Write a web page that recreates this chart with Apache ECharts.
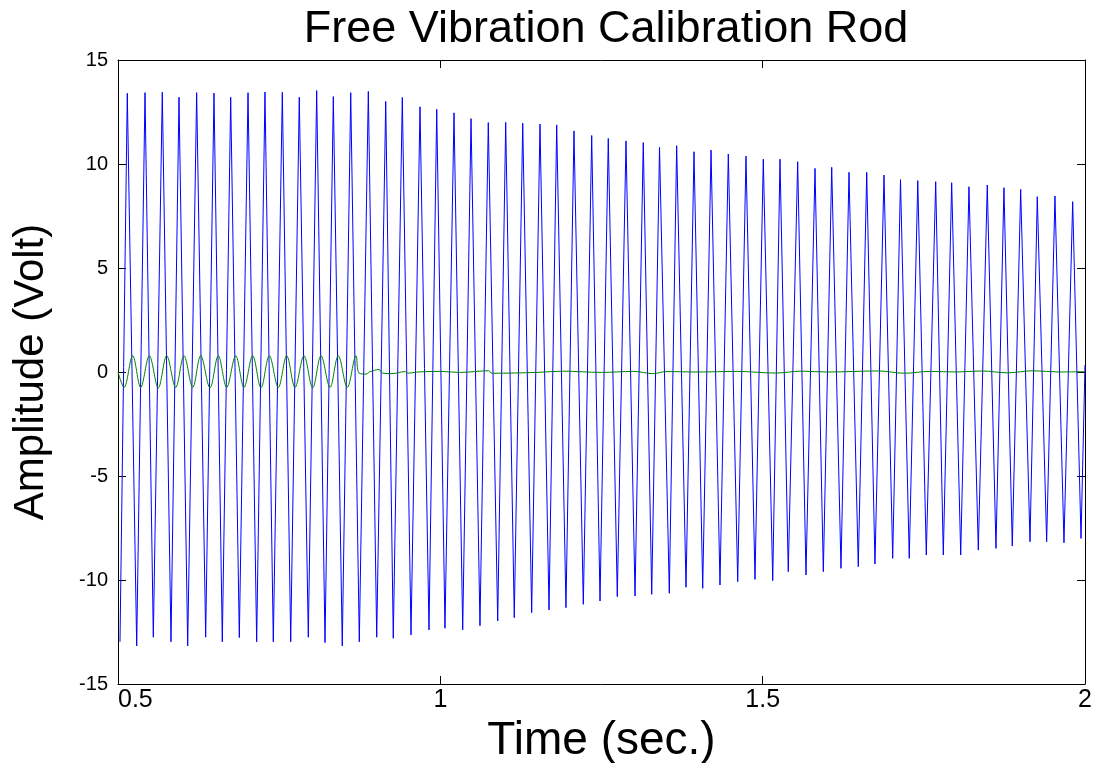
<!DOCTYPE html>
<html>
<head>
<meta charset="utf-8">
<script src="https://cdn.jsdelivr.net/npm/echarts/dist/echarts.min.js"></script>
<style>
html,body{margin:0;padding:0;background:#fff;}
#chart{width:1094px;height:763px;}
</style>
</head>
<body>
<div id="chart"></div>
<script>
// Blue signal: times (s) and values (V) of each crest and trough
var peakTimes = [0.5144,0.5419,0.5687,0.5946,0.6220,0.6489,0.6748,0.7017,0.7280,0.7549,0.7812,0.8082,0.8340,0.8610,0.8883,0.9153,0.9410,0.9685,0.9944,1.0212,1.0476,1.0744,1.1014,1.1278,1.1546,1.1805,1.2073,1.2348,1.2605,1.2880,1.3148,1.3400,1.3666,1.3935,1.4199,1.4467,1.4741,1.5010,1.5269,1.5543,1.5812,1.6071,1.6339,1.6614,1.6882,1.7138,1.7406,1.7684,1.7932,1.8200,1.8484,1.8743,1.9002,1.9260,1.9534,1.9809];
var peakValues = [13.40,13.43,13.45,13.21,13.43,13.41,13.21,13.43,13.46,13.45,13.21,13.53,13.24,13.43,13.49,13.01,13.20,12.75,12.63,12.46,12.18,11.99,12.00,11.96,11.92,11.88,11.59,11.37,11.23,11.11,11.03,10.80,10.88,10.59,10.67,10.48,10.38,10.23,10.23,10.11,9.79,9.84,9.60,9.60,9.47,9.25,9.20,9.15,9.10,8.91,8.99,8.86,8.78,8.43,8.46,8.19];
var troughTimes = [0.5031,0.5290,0.5548,0.5822,0.6081,0.6360,0.6618,0.6882,0.7151,0.7409,0.7679,0.7952,0.8211,0.8479,0.8743,0.9013,0.9270,0.9545,0.9824,1.0072,1.0347,1.0615,1.0890,1.1147,1.1417,1.1686,1.1949,1.2218,1.2477,1.2745,1.3020,1.3279,1.3552,1.3811,1.4070,1.4338,1.4613,1.4881,1.5156,1.5397,1.5672,1.5941,1.6215,1.6483,1.6742,1.7017,1.7274,1.7538,1.7802,1.8072,1.8345,1.8619,1.8872,1.9147,1.9405,1.9674,1.9938];
var troughValues = [-12.97,-13.17,-12.75,-12.97,-13.17,-12.75,-12.97,-12.77,-12.97,-12.97,-12.97,-12.75,-13.01,-13.17,-12.97,-12.75,-12.80,-12.64,-12.40,-12.32,-12.40,-12.20,-11.97,-11.81,-11.57,-11.44,-11.33,-11.17,-11.01,-10.80,-10.77,-10.69,-10.64,-10.35,-10.40,-10.24,-10.08,-9.97,-10.03,-9.60,-9.76,-9.60,-9.44,-9.36,-9.23,-8.96,-8.96,-8.80,-8.80,-8.80,-8.56,-8.48,-8.37,-8.16,-8.16,-8.21,-8.00];
var blueEnd = [2.0, 0.34];

// Green signal: points
var greenTimes = [0.5000,0.5093,0.5228,0.5352,0.5486,0.5625,0.5755,0.5895,0.6024,0.6159,0.6283,0.6427,0.6556,0.6686,0.6826,0.6954,0.7089,0.7218,0.7347,0.7487,0.7617,0.7746,0.7885,0.8020,0.8149,0.8289,0.8417,0.8557,0.8692,0.8738,0.885,0.890,0.905,0.910,0.925,0.945,0.950,0.965,1.000,1.030,1.075,1.080,1.150,1.190,1.250,1.300,1.330,1.350,1.400,1.460,1.520,1.560,1.600,1.680,1.720,1.760,1.800,1.840,1.880,1.920,1.960,2.000];
var greenValues = [0.00,-0.74,0.78,-0.74,0.78,-0.76,0.78,-0.74,0.78,-0.74,0.78,-0.76,0.78,-0.74,0.78,-0.74,0.78,-0.76,0.78,-0.74,0.78,-0.74,0.78,-0.76,0.78,-0.74,0.78,-0.74,0.78,-0.05,-0.10,0.00,0.12,-0.05,-0.08,0.02,-0.06,0.00,0.03,-0.02,0.06,-0.06,-0.02,0.04,-0.02,0.03,-0.08,0.02,0.00,0.03,-0.05,0.04,0.00,0.05,-0.06,0.03,0.00,0.05,-0.04,0.06,0.00,0.02];

var xTicks = [0.5, 1, 1.5, 2];
var yTicks = [-15, -10, -5, 0, 5, 10, 15];

var blueData = [];
for (var i = 0; i < troughTimes.length; i++) {
  blueData.push([troughTimes[i], troughValues[i]]);
  if (i < peakTimes.length) blueData.push([peakTimes[i], peakValues[i]]);
}
blueData.push(blueEnd);
var greenData = greenTimes.map(function (t, i) { return [t, greenValues[i]]; });

var FONT = 'Liberation Sans, Arial, sans-serif';
var chart = echarts.init(document.getElementById('chart'), null, {renderer: 'canvas'});
var axisCommon = {
  type: 'value',
  axisLine: {show: true, onZero: false, lineStyle: {color: '#000', width: 1}},
  axisTick: {show: true, inside: true, length: 8, lineStyle: {color: '#000'}},
  splitLine: {show: false}
};
chart.setOption({
  animation: false,
  backgroundColor: '#fff',
  title: {
    text: 'Free Vibration Calibration Rod',
    left: 601, top: 2, textAlign: 'center',
    textStyle: {fontFamily: FONT, fontSize: 45, fontWeight: 'normal', color: '#000'}
  },
  grid: {left: 118, top: 60, width: 967, height: 624, containLabel: false, outerBoundsMode: 'none'},
  xAxis: [
    Object.assign({}, axisCommon, {
      min: xTicks[0], max: xTicks[xTicks.length - 1], interval: 0.5, position: 'bottom',
      name: 'Time (sec.)', nameLocation: 'middle', nameGap: 27,
      nameTextStyle: {fontFamily: FONT, fontSize: 46, color: '#000'},
      axisLabel: {show: true, fontFamily: FONT, fontSize: 25, color: '#000', margin: 4, alignMinLabel: 'left'}
    }),
    Object.assign({}, axisCommon, {
      min: xTicks[0], max: xTicks[xTicks.length - 1], interval: 0.5, position: 'top',
      axisLabel: {show: false}
    })
  ],
  yAxis: [
    Object.assign({}, axisCommon, {
      min: yTicks[0], max: yTicks[yTicks.length - 1], interval: 5, position: 'left',
      name: 'Amplitude (Volt)', nameLocation: 'middle', nameGap: 66, nameRotate: 90,
      nameTextStyle: {fontFamily: FONT, fontSize: 42, color: '#000'},
      axisLabel: {show: true, fontFamily: FONT, fontSize: 20, color: '#000', margin: 10}
    }),
    Object.assign({}, axisCommon, {
      min: yTicks[0], max: yTicks[yTicks.length - 1], interval: 5, position: 'right',
      axisLabel: {show: false}
    })
  ],
  series: [
    {
      type: 'line', data: blueData, xAxisIndex: 0, yAxisIndex: 0,
      showSymbol: false, lineStyle: {color: '#0000ff', width: 1}, z: 2
    },
    {
      type: 'line', data: greenData, xAxisIndex: 0, yAxisIndex: 0,
      showSymbol: false, smooth: 0.35, lineStyle: {color: '#008000', width: 1}, z: 3
    }
  ]
});
</script>
</body>
</html>
